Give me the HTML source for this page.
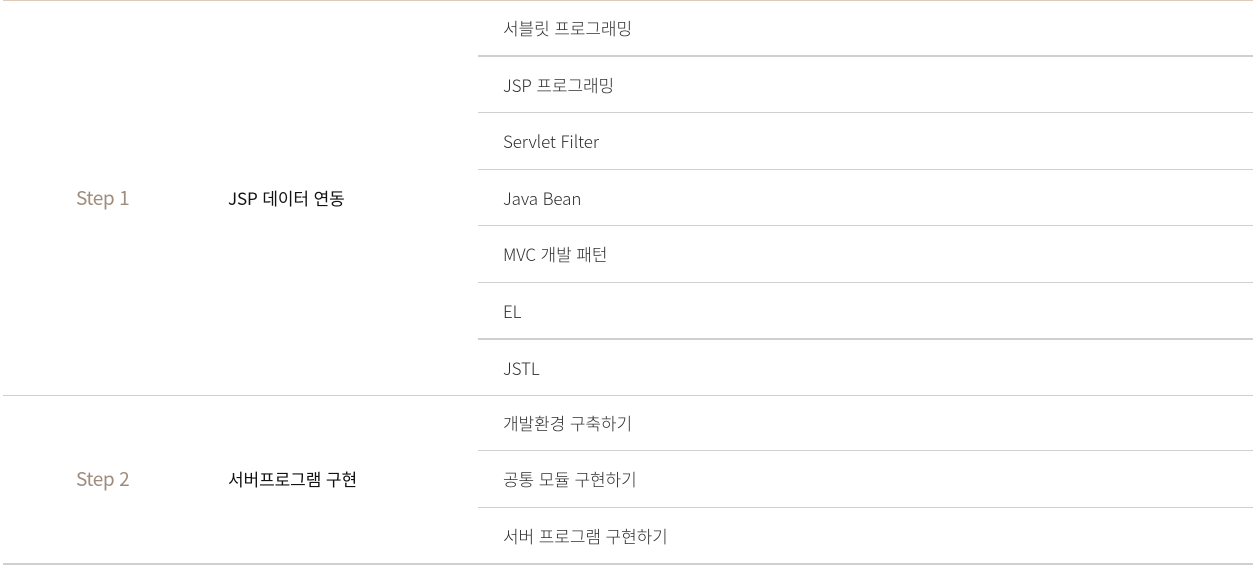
<!DOCTYPE html>
<html lang="ko">
<head>
<meta charset="utf-8">
<title>Curriculum</title>
<style>
html,body{margin:0;padding:0;background:#fff;}
body{width:1259px;height:565px;position:relative;overflow:hidden;font-family:"Liberation Sans","Noto Sans CJK KR",sans-serif;}
.t{position:absolute;white-space:nowrap;line-height:24px;height:24px;font-family:"Noto Sans CJK KR",sans-serif;}
.item{left:503px;font-size:17px;font-weight:300;color:#2e2e2e;letter-spacing:-0.1px;}
.step{left:76px;font-size:19px;font-weight:400;color:#a08c7c;letter-spacing:-0.45px;}
.title{left:228px;font-size:17px;font-weight:400;color:#111;letter-spacing:-0.1px;}
.l{position:absolute;background:#d0d0d0;}
</style>
</head>
<body>
<div class="l" style="left:3px;top:0;width:1250px;height:1px;background:#ddcbbb"></div>

<div class="l" style="left:478px;top:55px;width:775px;height:2px"></div>
<div class="l" style="left:478px;top:112px;width:775px;height:1px"></div>
<div class="l" style="left:478px;top:169px;width:775px;height:1px"></div>
<div class="l" style="left:478px;top:225px;width:775px;height:1px"></div>
<div class="l" style="left:478px;top:282px;width:775px;height:1px"></div>
<div class="l" style="left:478px;top:338px;width:775px;height:2px"></div>
<div class="l" style="left:3px;top:395px;width:1250px;height:1px"></div>
<div class="l" style="left:478px;top:450px;width:775px;height:1px"></div>
<div class="l" style="left:478px;top:507px;width:775px;height:1px"></div>
<div class="l" style="left:3px;top:563px;width:1250px;height:2px"></div>

<div class="t step" style="top:186px">Step 1</div>
<div class="t title" style="top:186px">JSP 데이터 연동</div>
<div class="t item" style="top:16px">서블릿 프로그래밍</div>
<div class="t item" style="top:73px">JSP 프로그래밍</div>
<div class="t item" style="top:129px">Servlet Filter</div>
<div class="t item" style="top:186px">Java Bean</div>
<div class="t item" style="top:242px">MVC 개발 패턴</div>
<div class="t item" style="top:299px">EL</div>
<div class="t item" style="top:356px">JSTL</div>

<div class="t step" style="top:467px">Step 2</div>
<div class="t title" style="top:467px">서버프로그램 구현</div>
<div class="t item" style="top:411px">개발환경 구축하기</div>
<div class="t item" style="top:467px">공통 모듈 구현하기</div>
<div class="t item" style="top:524px">서버 프로그램 구현하기</div>
</body>
</html>
